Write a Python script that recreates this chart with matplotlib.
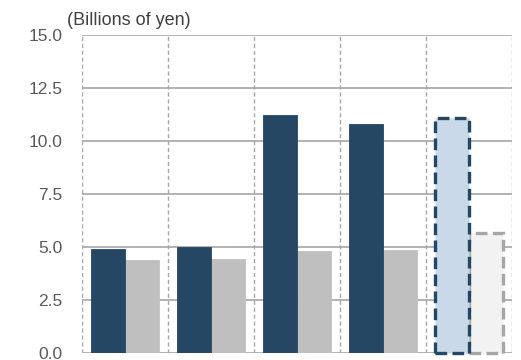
import matplotlib
matplotlib.use("Agg")
import matplotlib.pyplot as plt
import numpy as np

plt.rcParams['font.family'] = ['Liberation Sans', 'DejaVu Sans']

# Values in billions of yen; the last group is a forecast (dashed outline)
categories = ["FY1", "FY2", "FY3", "FY4", "FY5"]
series_a = [4.9, 5.0, 11.25, 10.8, 11.1]
series_b = [4.4, 4.45, 4.8, 4.85, 5.65]
forecast = [False, False, False, False, True]
yticks = [0.0, 2.5, 5.0, 7.5, 10.0, 12.5, 15.0]

navy = "#264764"
gray = "#bfbfbf"
light_blue = "#c9d9ea"
light_gray = "#f2f2f2"
edge_gray = "#a6a6a6"
grid_gray = "#a6a6a6"
text_gray = "#595959"

fig = plt.figure(figsize=(5.21, 3.60), dpi=100)
ax = fig.add_axes([82 / 521, 7 / 360, 430 / 521, 318 / 360])

x = np.arange(len(categories))
w = 0.395

for i, xi in enumerate(x):
    if forecast[i]:
        ax.bar(xi - w / 2, series_a[i], w, color=light_blue, edgecolor=navy,
               linewidth=2.4, linestyle=(0, (3.5, 1.6)), zorder=3, clip_on=False)
        ax.bar(xi + w / 2, series_b[i], w, color=light_gray, edgecolor=edge_gray,
               linewidth=2.4, linestyle=(0, (3.5, 1.6)), zorder=2, clip_on=False)
    else:
        ax.bar(xi - w / 2, series_a[i], w, color=navy, edgecolor=navy,
               linewidth=0.6, zorder=3)
        ax.bar(xi + w / 2, series_b[i], w, color=gray, edgecolor=gray,
               linewidth=0.6, zorder=2)

ax.set_xlim(-0.5, len(categories) - 0.5)
ax.set_ylim(0, 15)
ax.set_yticks(yticks)
ax.set_yticklabels([f"{v:.1f}" for v in yticks])
ax.set_xticks([])

# Solid horizontal gridlines
for v in yticks:
    ax.axhline(v, color=grid_gray, linewidth=1.2, zorder=1)
# Dashed separators between groups
for b in np.arange(-0.5, len(categories), 1.0):
    ax.axvline(b, color=grid_gray, linewidth=1.0, linestyle=(0, (3, 2)), zorder=1)

for s in ax.spines.values():
    s.set_visible(False)
ax.tick_params(axis="y", length=0, pad=14, labelsize=12.5, labelcolor=text_gray)

fig.text(67 / 521, 1 - 25 / 360, "(Billions of yen)", fontsize=13,
         color="#404040", ha="left", va="baseline")

fig.savefig("out.png", dpi=100)
